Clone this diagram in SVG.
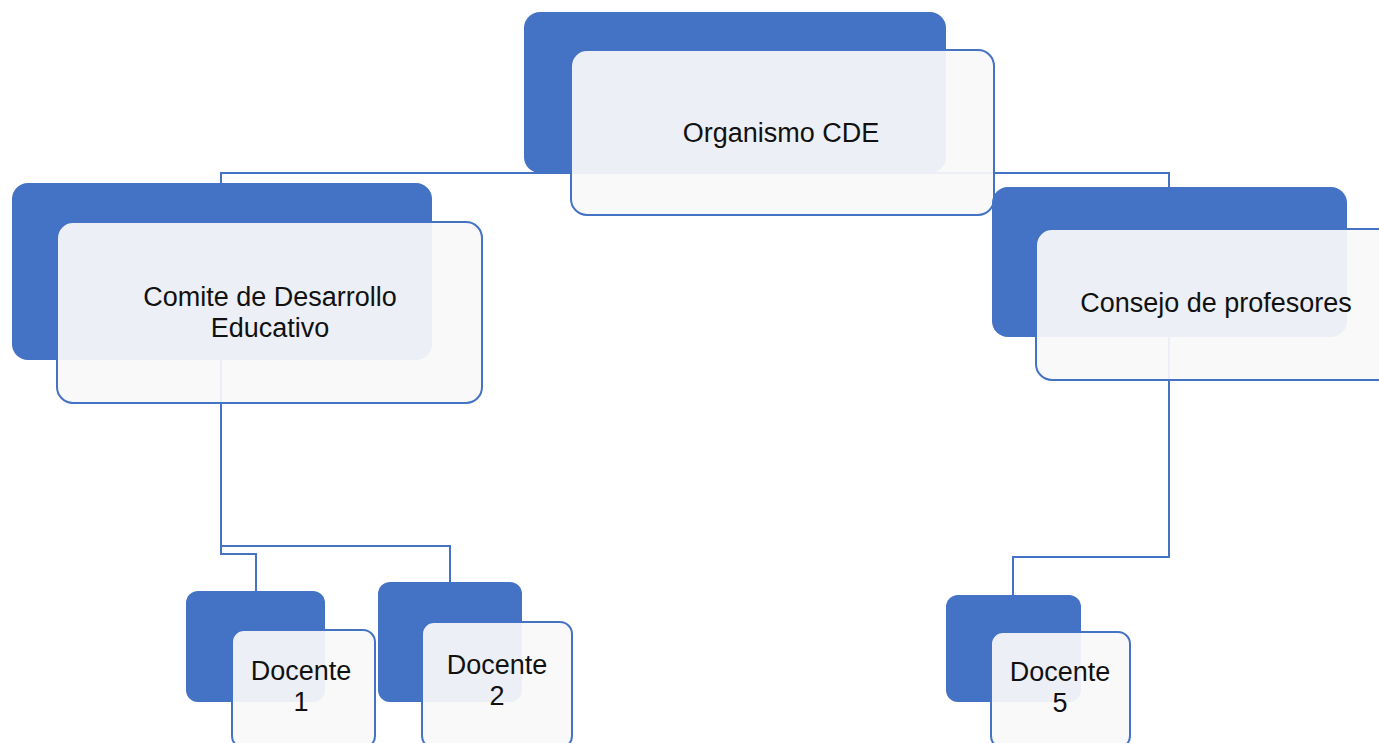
<svg xmlns="http://www.w3.org/2000/svg" width="1379" height="743" viewBox="0 0 1379 743">
<style>
.back{fill:#4472C4;}
.front{fill:#F9F9F9;fill-opacity:0.93;stroke:#4472C4;stroke-width:2;}
.conn{fill:none;stroke:#4472C4;stroke-width:2;}
.lbl{font-family:"Liberation Sans",Arial,sans-serif;font-size:27px;fill:#111111;text-anchor:middle;}
</style>
<rect width="1379" height="743" fill="#FFFFFF"/>
<g id="connectors">
<path class="conn" d="M221,186 V173 H1169 V188"/>
<path class="conn" d="M221,360 V546 H450 V583"/>
<path class="conn" d="M221,546 V554 H256 V591"/>
<path class="conn" d="M1169,337 V557 H1013 V595"/>
</g>
<g id="organismo">
<rect class="back" x="524" y="12" width="422" height="161" rx="16"/>
<rect class="front" x="571" y="50" width="423" height="165" rx="16"/>
<text class="lbl" x="781" y="142">Organismo CDE</text>
</g>
<g id="comite">
<rect class="back" x="12" y="183" width="420" height="177" rx="16"/>
<rect class="front" x="57" y="222" width="425" height="181" rx="16"/>
<text class="lbl" x="270" y="306">Comite de Desarrollo<tspan x="270" dy="31">Educativo</tspan></text>
</g>
<g id="consejo">
<rect class="back" x="992" y="187" width="355" height="150" rx="16"/>
<rect class="front" x="1036" y="229" width="370" height="151" rx="16"/>
<text class="lbl" x="1216" y="312">Consejo de profesores</text>
</g>
<g id="docente1">
<rect class="back" x="186" y="591" width="139" height="111" rx="12"/>
<rect class="front" x="232" y="630" width="143" height="118" rx="12"/>
<text class="lbl" x="301" y="680">Docente<tspan x="301" dy="31">1</tspan></text>
</g>
<g id="docente2">
<rect class="back" x="378" y="582" width="144" height="120" rx="12"/>
<rect class="front" x="422" y="622" width="150" height="126" rx="12"/>
<text class="lbl" x="497" y="674">Docente<tspan x="497" dy="31">2</tspan></text>
</g>
<g id="docente5">
<rect class="back" x="946" y="595" width="135" height="107" rx="12"/>
<rect class="front" x="991" y="632" width="139" height="116" rx="12"/>
<text class="lbl" x="1060" y="681">Docente<tspan x="1060" dy="31">5</tspan></text>
</g>
</svg>
